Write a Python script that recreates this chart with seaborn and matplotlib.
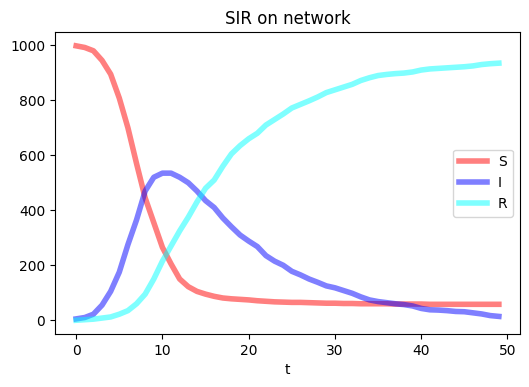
import matplotlib
matplotlib.use("Agg")
import matplotlib.pyplot as plt
import seaborn as sns
import pandas as pd

t = list(range(50))
S = [998, 992, 980, 945, 895, 808, 700, 570, 445, 355, 265, 205, 150, 122, 105, 95, 87, 81, 78, 76,
     74, 71, 69, 67, 66, 65, 65, 64, 63, 62, 62, 61, 61, 60, 60, 60, 60, 59, 59, 59,
     59, 58, 58, 58, 58, 58, 58, 58, 58, 58]
I = [5, 10, 22, 55, 105, 175, 275, 365, 470, 520, 535, 535, 520, 500, 470, 435, 410, 372, 340, 310,
     288, 268, 235, 215, 200, 178, 165, 150, 138, 125, 118, 108, 98, 85, 74, 68, 64, 60, 57, 52,
     43, 38, 37, 35, 32, 31, 27, 23, 17, 14]
R = [0, 2, 4, 8, 12, 22, 35, 60, 95, 150, 215, 270, 325, 375, 430, 480, 510, 560, 605, 635,
     660, 680, 710, 730, 750, 772, 785, 798, 812, 828, 838, 848, 858, 872, 882, 890, 894, 897, 899, 903,
     910, 914, 916, 918, 920, 922, 925, 930, 933, 935]

df = pd.DataFrame({"t": t, "S": S, "I": I, "R": R})

plt.rcParams["font.family"] = ["DejaVu Sans"]
fig = plt.figure(figsize=(5.29, 3.87), dpi=100)
ax = fig.add_axes([0.104, 0.137, 0.879, 0.780])

for col, c in [("S", "red"), ("I", "blue"), ("R", "cyan")]:
    sns.lineplot(data=df, x="t", y=col, color=c, alpha=0.5, lw=4, label=col, ax=ax)

ax.set_title("SIR on network")
ax.set_xlabel("t")
ax.set_ylabel("")
ax.legend(loc="center right")
fig.savefig("out.png", dpi=100)
